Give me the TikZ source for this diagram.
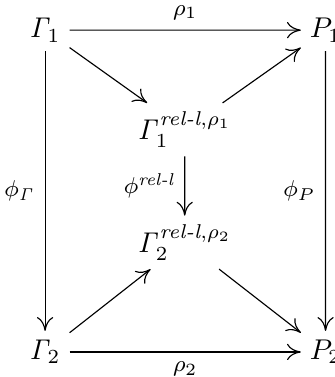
\documentclass[tikz,border=0pt]{standalone}
\usepackage{amsmath}
\usepackage{tikz}
\usetikzlibrary{arrows.meta}

\begin{document}
\begin{tikzpicture}[scale=0.77,>={To[length=1.7mm,width=2.0mm]},obj/.style={inner sep=3pt},lbl/.style={font=\footnotesize},arr/.style={->,thin}]
\useasboundingbox (0,0) rectangle (5.335,6.022);
\node[obj] (g1) at (0.72,5.54) {$\mathit{\Gamma}_1$};
\node[obj] (p1) at (5.20,5.54) {$P_1$};
\node[obj] (g2) at (0.72,0.40) {$\mathit{\Gamma}_2$};
\node[obj] (p2) at (5.20,0.40) {$P_2$};
\node[obj] (r1) at (2.95,3.95) {$\mathit{\Gamma}_1^{\textit{rel-l},\rho_1}$};
\node[obj] (r2) at (2.95,2.15) {$\mathit{\Gamma}_2^{\textit{rel-l},\rho_2}$};
\draw[arr] (g1)--node[lbl,above]{$\rho_1$}(p1);
\draw[arr] (g2)--node[lbl,below]{$\rho_2$}(p2);
\draw[arr] (g1)--node[lbl,left]{$\phi_{\mathit{\Gamma}}$}(g2);
\draw[arr] (p1)--node[lbl,left]{$\phi_P$}(p2);
\draw[arr] (r1)--node[lbl,left]{$\phi^{\textit{rel-l}}$}(r2);
\draw[arr] (g1)--(r1);
\draw[arr] (r1)--(p1);
\draw[arr] (g2)--(r2);
\draw[arr] (r2)--(p2);
\end{tikzpicture}
\end{document}
